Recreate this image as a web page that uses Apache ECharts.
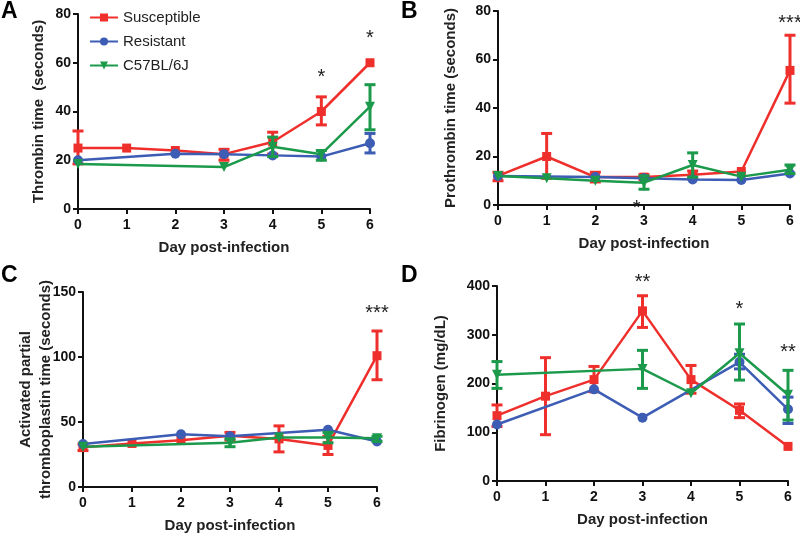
<!DOCTYPE html>
<html><head><meta charset="utf-8">
<script src="https://cdn.jsdelivr.net/npm/echarts@6/dist/echarts.min.js"></script>
<style>html,body{margin:0;padding:0;background:#fff}#c{width:800px;height:533px}</style>
</head><body><div id="c"></div>
<script>
const days = [0, 1, 2, 3, 4, 5, 6];
const groups = ['Susceptible', 'Resistant', 'C57BL/6J'];

// Panel A: Thrombin time
const thrSus = [25, 25, 24, 22.5, 27.5, 40, 60];
const thrRes = [20, null, 22.7, 22.5, 22, 21.5, 27];
const thrB6 = [18.5, null, null, 17.2, 25.5, 22.5, 42];
const thrSusErr = [[18.5, 32], null, null, [20, 24.5], [22.5, 31.5], [34.5, 46], null];
const thrResErr = [null, null, null, null, null, null, [23, 31]];
const thrB6Err = [null, null, null, null, [21.5, 29.5], [20, 24], [32.5, 51]];
const sigA = [[5, 55, '*'], [6, 71, '*']];

// Panel B: Prothrombin time
const ptSus = [12, 20, 11.5, 11.5, 12.5, 13.8, 55.5];
const ptRes = [12, null, 11.5, 11, 10.5, 10.3, 13];
const ptB6 = [12, 11, 10, 9.2, 16.5, 11.7, 14.5];
const ptSusErr = [[10, 13.5], [11, 29.5], [9.5, 13.5], [10.5, 12.5], [11, 14], null, [42, 70]];
const ptResErr = [null, null, null, null, null, null, null];
const ptB6Err = [null, null, null, [6.5, 12], [11.5, 21.5], null, [13, 16.5]];
const sigB = [[6, 76, '***'], [2.85, 0, '*']];

// Panel C: APTT
const apttSus = [30.5, 33.5, 36, 39.5, 37, 32, 101];
const apttRes = [33, null, 40.5, 39, null, 44, 35];
const apttB6 = [31, null, null, 34, 38, 38, 37.5];
const apttSusErr = [[28, 33], null, null, [36, 42], [27, 47], [25, 39], [82.5, 120]];
const apttResErr = [null, null, null, null, null, null, null];
const apttB6Err = [null, null, null, [31, 37], null, [34, 42], [35, 39]];
const sigC = [[6, 136, '***']];

// Panel D: Fibrinogen
const fibSus = [134, 174, 208, 349, 208, 145, 71];
const fibRes = [116, null, 188, 130, null, 244, 147];
const fibB6 = [218, null, null, 230, 180, 262, 177];
const fibSusErr = [[112, 156], [95, 253], [183, 235], [315, 380], [180, 237], [130, 158], null];
const fibResErr = [null, null, null, null, null, [230, 260], [118, 172]];
const fibB6Err = [[190, 245], null, null, [190, 268], null, [207, 322], [125, 227]];
const sigD = [[3, 414, '**'], [5, 357, '*'], [6, 270, '**']];

const colors = ['#ee2f2b', '#3d5db5', '#1c9a4b'];
const symbols = ['rect', 'circle', 'triangle'];
const symRot = [0, 0, 180];
const symSize = [9, 10, 10];
const FONT = '"Liberation Sans", Arial, sans-serif';

const panels = [
  { vals: [thrSus, thrRes, thrB6], errs: [thrSusErr, thrResErr, thrB6Err], sig: sigA, max: 80, interval: 20,
    name: 'Thrombin time  (seconds)', grid: { left: 78, top: 14, width: 292, height: 195 }, nameGap: 29 },
  { vals: [ptSus, ptRes, ptB6], errs: [ptSusErr, ptResErr, ptB6Err], sig: sigB, max: 80, interval: 20,
    name: 'Prothrombin time (seconds)', grid: { left: 498, top: 11, width: 292, height: 194 }, nameGap: 37 },
  { vals: [apttSus, apttRes, apttB6], errs: [apttSusErr, apttResErr, apttB6Err], sig: sigC, max: 150, interval: 50,
    name: 'Activated partial\nthromboplastin time (seconds)', grid: { left: 83, top: 292, width: 294, height: 195 }, nameGap: 27 },
  { vals: [fibSus, fibRes, fibB6], errs: [fibSusErr, fibResErr, fibB6Err], sig: sigD, max: 400, interval: 100,
    name: 'Fibrinogen (mg/dL)', grid: { left: 497, top: 286, width: 291, height: 195 }, nameGap: 46 }
];

const grid = [], xAxis = [], yAxis = [], series = [];
const axisStyle = { lineStyle: { color: '#111', width: 2 } };
panels.forEach((p, i) => {
  grid.push(Object.assign({ outerBoundsMode: 'none', containLabel: false }, p.grid));
  xAxis.push({
    type: 'value', gridIndex: i, min: 0, max: 6, interval: 1,
    axisLine: { show: true, onZero: false, ...axisStyle },
    axisTick: { show: true, inside: false, length: 5, lineStyle: { color: '#111', width: 2 } },
    splitLine: { show: false },
    axisLabel: { color: '#111', fontWeight: 'bold', fontSize: 14, fontFamily: FONT, margin: 9 },
    name: 'Day post-infection', nameLocation: 'middle', nameGap: 31, nameMoveOverlap: false,
    nameTextStyle: { color: '#222', fontWeight: 'bold', fontSize: 15, fontFamily: FONT }
  });
  yAxis.push({
    type: 'value', gridIndex: i, min: 0, max: p.max, interval: p.interval,
    axisLine: { show: true, ...axisStyle },
    axisTick: { show: true, inside: false, length: 5, lineStyle: { color: '#111', width: 2 } },
    splitLine: { show: false },
    axisLabel: { color: '#111', fontWeight: 'bold', fontSize: 14, fontFamily: FONT, margin: 7 },
    name: p.name, nameLocation: 'middle', nameGap: p.nameGap, nameRotate: 90, nameMoveOverlap: false,
    nameTextStyle: { color: '#222', fontWeight: 'bold', fontSize: 15, fontFamily: FONT, lineHeight: 20 }
  });
});

// line series first (used by legend)
panels.forEach((p, i) => {
  p.vals.forEach((arr, g) => {
    series.push({
      type: 'line', name: groups[g], xAxisIndex: i, yAxisIndex: i,
      data: days.map((d, k) => [d, arr[k]]).filter(pt => pt[1] !== null),
      symbol: symbols[g], symbolRotate: symRot[g], symbolSize: symSize[g],
      lineStyle: { color: colors[g], width: 2.5 },
      itemStyle: { color: colors[g] },
      z: 3 + g, animation: false
    });
  });
});

// error bars
panels.forEach((p, i) => {
  p.errs.forEach((arr, g) => {
    const data = days.map((d, k) => arr[k] ? [d, arr[k][0], arr[k][1]] : null).filter(Boolean);
    series.push({
      type: 'custom', name: 'err' + i + '_' + g, xAxisIndex: i, yAxisIndex: i, data: data,
      renderItem: function (params, api) {
        const x = api.value(0);
        const lo = api.coord([x, api.value(1)]);
        const hi = api.coord([x, api.value(2)]);
        const w = 5.5;
        const st = { stroke: colors[g], lineWidth: 3 };
        return { type: 'group', children: [
          { type: 'line', shape: { x1: lo[0], y1: lo[1], x2: hi[0], y2: hi[1] }, style: st },
          { type: 'line', shape: { x1: lo[0] - w, y1: lo[1], x2: lo[0] + w, y2: lo[1] }, style: st },
          { type: 'line', shape: { x1: hi[0] - w, y1: hi[1], x2: hi[0] + w, y2: hi[1] }, style: st }
        ] };
      },
      encode: { x: 0, y: [1, 2] }, z: 3 + g, animation: false, silent: true
    });
  });
});

// significance marks
panels.forEach((p, i) => {
  series.push({
    type: 'custom', name: 'sig' + i, xAxisIndex: i, yAxisIndex: i,
    data: p.sig.map(s => [s[0], s[1]]),
    clip: false, silent: true, animation: false, z: 10,
    renderItem: function (params, api) {
      const pt = api.coord([api.value(0), api.value(1)]);
      return { type: 'text', x: pt[0], y: pt[1] + 3,
        style: { text: p.sig[params.dataIndex][2], fill: '#222', font: '20px ' + FONT,
                 align: 'center', verticalAlign: 'middle' } };
    },
    encode: { x: 0, y: 1 }
  });
});

const chart = echarts.init(document.getElementById('c'), null, { renderer: 'canvas' });
chart.setOption({
  backgroundColor: '#fff',
  animation: false,
  grid: grid, xAxis: xAxis, yAxis: yAxis, series: series,
  legend: {
    data: groups, orient: 'vertical', left: 84, top: 5, itemWidth: 28, itemHeight: 10, itemGap: 9,
    textStyle: { color: '#222', fontSize: 15, fontFamily: FONT }
  },
  graphic: [
    { type: 'text', left: 1, top: 0, style: { text: 'A', font: 'bold 23px ' + FONT, fill: '#000' } },
    { type: 'text', left: 401, top: 0, style: { text: 'B', font: 'bold 23px ' + FONT, fill: '#000' } },
    { type: 'text', left: 1, top: 264, style: { text: 'C', font: 'bold 23px ' + FONT, fill: '#000' } },
    { type: 'text', left: 401, top: 264, style: { text: 'D', font: 'bold 23px ' + FONT, fill: '#000' } }
  ]
});
</script></body></html>
